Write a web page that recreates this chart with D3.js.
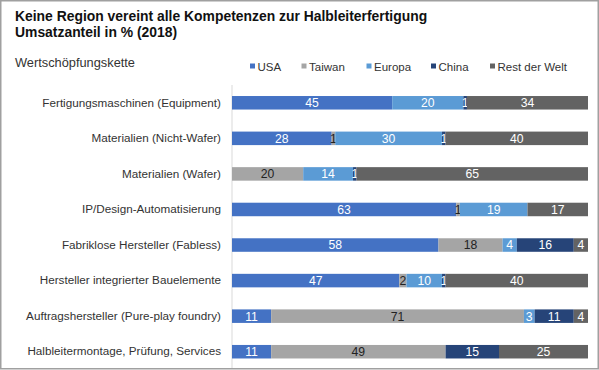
<!DOCTYPE html>
<html><head><meta charset="utf-8">
<script src="https://cdn.jsdelivr.net/npm/d3@7"></script>
<style>body{margin:0;background:#fff;}svg{display:block;font-family:"Liberation Sans",Arial,sans-serif;}</style>
</head><body>
<script>
const categories = ["Fertigungsmaschinen (Equipment)","Materialien (Nicht-Wafer)","Materialien (Wafer)","IP/Design-Automatisierung","Fabriklose Hersteller (Fabless)","Hersteller integrierter Bauelemente","Auftragshersteller (Pure-play foundry)","Halbleitermontage, Prüfung, Services"];
const seriesNames = ["USA","Taiwan","Europa","China","Rest der Welt"];
const usa    = [45,28,0,63,58,47,11,11];
const taiwan = [0,1,20,1,18,2,71,49];
const europa = [20,30,14,19,4,10,3,0];
const china  = [1,1,1,0,16,1,11,15];
const rest   = [34,40,65,17,4,40,4,25];
const colors = ["#4472C4","#A5A5A5","#5B9BD5","#264478","#636363"];
const labelColors = ["#fff","#222","#fff","#fff","#fff"];

const W=599,H=370;
const svg=d3.select("body").append("svg").attr("width",W).attr("height",H);
svg.append("rect").attr("x",0.75).attr("y",0.75).attr("width",W-1.5).attr("height",H-2).attr("fill","#fff").attr("stroke","#a0a0a0").attr("stroke-width",1.5);

svg.append("text").attr("x",15).attr("y",20.7).attr("font-size",13.9).attr("font-weight","bold").attr("fill","#111").text("Keine Region vereint alle Kompetenzen zur Halbleiterfertigung");
svg.append("text").attr("x",15).attr("y",36.5).attr("font-size",13.9).attr("font-weight","bold").attr("fill","#111").text("Umsatzanteil in % (2018)");
svg.append("text").attr("x",15).attr("y",67).attr("font-size",12.8).attr("fill","#333").text("Wertschöpfungskette");

const data = categories.map((c,i)=>({cat:c,USA:usa[i],Taiwan:taiwan[i],Europa:europa[i],China:china[i],"Rest der Welt":rest[i]}));
const stack = d3.stack().keys(seriesNames)(data);

const x=d3.scaleLinear().domain([0,100]).range([232,588]);
const y=d3.scaleBand().domain(categories).range([85,369.5]).paddingInner(0.62).paddingOuter(0.31);

svg.append("line").attr("x1",x(0)).attr("x2",x(0)).attr("y1",85).attr("y2",368).attr("stroke","#d9d9d9");

stack.forEach((s,si)=>{
  const g=svg.append("g");
  g.selectAll("rect").data(s).join("rect")
    .attr("x",d=>x(d[0])).attr("width",d=>x(d[1])-x(d[0]))
    .attr("y",d=>y(d.data.cat)).attr("height",y.bandwidth()).attr("fill",colors[si]);
  g.selectAll("text").data(s.filter(d=>d[1]-d[0]>0)).join("text")
    .attr("x",d=>(x(d[0])+x(d[1]))/2).attr("y",d=>y(d.data.cat)+y.bandwidth()/2+4.4)
    .attr("text-anchor","middle").attr("font-size",12.2).attr("fill",labelColors[si])
    .text(d=>d[1]-d[0]);
});

const yAxis=d3.axisLeft(y).tickSize(0).tickPadding(11);
const ga=svg.append("g").attr("transform",`translate(${x(0)},0)`).call(yAxis);
ga.select(".domain").remove();
ga.selectAll("text").attr("font-size",11.7).attr("fill","#333").attr("font-family","Liberation Sans, Arial, sans-serif");

const legX=[250,301.5,366.5,431,490];
const leg=svg.append("g");
seriesNames.forEach((n,i)=>{
  leg.append("rect").attr("x",legX[i]).attr("y",63.5).attr("width",5).attr("height",5).attr("fill",colors[i]);
  leg.append("text").attr("x",legX[i]+7.5).attr("y",70.7).attr("font-size",11.5).attr("fill","#333").text(n);
});
</script>
</body></html>
